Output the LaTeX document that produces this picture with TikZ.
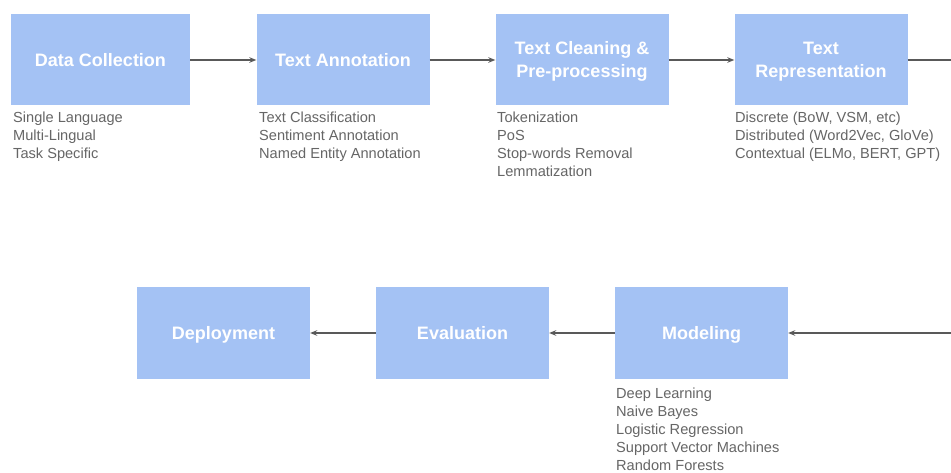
\documentclass[tikz,border=0pt]{standalone}
\usepackage{fontspec}
\setmainfont{Liberation Sans}
\usetikzlibrary{arrows.meta,positioning}
\definecolor{boxblue}{HTML}{A4C2F4}
\definecolor{subgray}{HTML}{666666}
\definecolor{linegray}{HTML}{595959}
\newcommand{\mystrut}{\rule[-5pt]{0pt}{23pt}}
\tikzset{
  stagebox/.style={draw=none,fill=boxblue,minimum width=173pt,minimum height=91pt,
    inner sep=0pt,align=center,text=white,
    font=\fontsize{18}{23}\selectfont\bfseries},
  subtext/.style={anchor=north west,inner sep=0pt,align=left,text=subgray,
    font=\fontsize{14.6}{18}\selectfont},
  flow/.style={draw=linegray,line width=1.4pt,-{Stealth[length=7pt,width=5.5pt]}},
}
\begin{document}
\begin{tikzpicture}[x=1pt,y=-1pt]
\useasboundingbox (0,0) rectangle (951,473);
\clip (0,0) rectangle (951,473);
\fill[white] (0,0) rectangle (951,473);
% top row
\node[stagebox,minimum width=179pt] (dc) at (100.5,60) {\mystrut Data Collection};
\node[stagebox] (ta) at (343,60) {\mystrut Text Annotation};
\node[stagebox] (tc) at (582,60) {\mystrut Text Cleaning \&\\\mystrut Pre-processing};
\node[stagebox] (tr) at (821,60) {\mystrut Text\\\mystrut Representation};
% bottom row
\node[stagebox] (dep) at (223.5,333) {\mystrut Deployment};
\node[stagebox] (ev) at (462.5,333) {\mystrut Evaluation};
\node[stagebox] (mo) at (701.5,333) {\mystrut Modeling};
% sub texts
\node[subtext] (dcs) at (13,111.5) {Single Language\\Multi-Lingual\\Task Specific};
\node[subtext] (tas) at (259,111.5) {Text Classification\\Sentiment Annotation\\Named Entity Annotation};
\node[subtext] (tcs) at (497,111.5) {Tokenization\\PoS\\Stop-words Removal\\Lemmatization};
\node[subtext] (trs) at (735,111.5) {Discrete (BoW, VSM, etc)\\Distributed (Word2Vec, GloVe)\\Contextual (ELMo, BERT, GPT)};
\node[subtext] (mos) at (616,387.5) {Deep Learning\\Naive Bayes\\Logistic Regression\\Support Vector Machines\\Random Forests};
% off-canvas ends
\coordinate (outR) at (965,60);
\coordinate (inR) at (965,333);
% connectors
\draw[flow] (dc) -- (ta);
\draw[flow] (ta) -- (tc);
\draw[flow] (tc) -- (tr);
\draw[draw=linegray,line width=1.4pt] (tr) -- (outR);
\draw[flow] (inR) -- (mo);
\draw[flow] (mo) -- (ev);
\draw[flow] (ev) -- (dep);
\end{tikzpicture}
\end{document}
